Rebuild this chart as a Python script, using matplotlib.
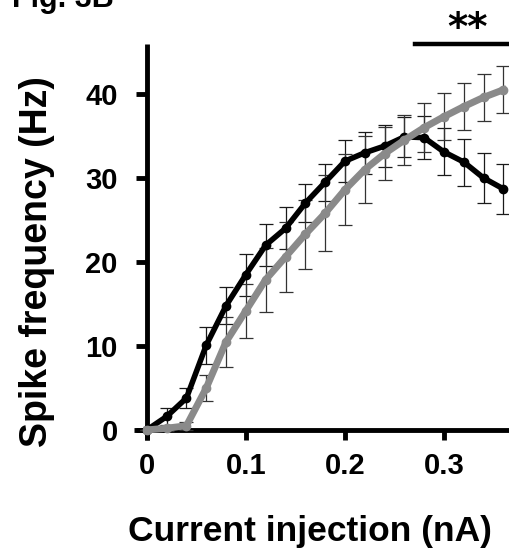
import matplotlib
matplotlib.use("Agg")
import matplotlib.pyplot as plt
import numpy as np

# Current steps (nA) and mean spike frequency (Hz) with SEM
current = [0.00, 0.02, 0.04, 0.06, 0.08, 0.10, 0.12, 0.14, 0.16, 0.18,
           0.20, 0.22, 0.24, 0.26, 0.28, 0.30, 0.32, 0.34, 0.36]
black_mean = [0.0, 1.6, 3.8, 10.1, 14.8, 18.5, 22.0, 24.0, 27.0, 29.5,
              32.0, 33.0, 33.8, 34.9, 34.8, 33.1, 31.9, 30.0, 28.7]
black_sem = [0.0, 1.0, 1.2, 2.2, 2.2, 2.5, 2.5, 2.5, 2.3, 2.2,
             2.5, 2.5, 2.5, 2.4, 2.6, 2.8, 2.8, 3.0, 3.0]
gray_mean = [0.0, 0.2, 0.5, 5.0, 10.5, 14.2, 17.9, 20.6, 23.3, 25.8,
             28.6, 31.0, 32.9, 34.5, 36.0, 37.3, 38.5, 39.6, 40.5]
gray_sem = [0.0, 0.3, 0.5, 1.5, 3.0, 3.2, 3.8, 4.2, 4.1, 4.5,
            4.2, 4.0, 3.2, 3.0, 2.9, 2.8, 2.8, 2.8, 2.8]

x_ticks = [0, 0.1, 0.2, 0.3]
x_tick_labels = ["0", "0.1", "0.2", "0.3"]
y_ticks = [0, 10, 20, 30, 40]
sig_span = [0.271, 0.40]
sig_label = "**"

plt.rcParams["font.family"] = ["Liberation Sans", "DejaVu Sans"]

W, H = 509, 560
fig = plt.figure(figsize=(W / 100, H / 100), dpi=100)

x0, x1 = -0.013, 0.3657
y0, y1 = -1.2, 46.0
px_left, px_bottom, px_top = 134, 440, 43.6
ax = fig.add_axes([px_left / W, 1 - px_bottom / H, 1 - px_left / W, (px_bottom - px_top) / H])
ax.set_xlim(x0, x1)
ax.set_ylim(y0, y1)

# error bars
ax.errorbar(current, black_mean, yerr=black_sem, fmt="none", ecolor="#1a1a1a",
            elinewidth=0.9, capsize=5, capthick=0.9, zorder=3, clip_on=False)
ax.errorbar(current, gray_mean, yerr=gray_sem, fmt="none", ecolor="#333333",
            elinewidth=0.9, capsize=5, capthick=0.9, zorder=3, clip_on=False)

ax.plot(current, black_mean, color="black", lw=4, marker="o", ms=6,
        zorder=5, clip_on=False)
ax.plot(current, gray_mean, color="#8a8a8a", lw=5, marker="o", ms=6,
        zorder=6, clip_on=False)

# axes styling
for side in ("top", "right"):
    ax.spines[side].set_visible(False)
ax.spines["left"].set_position(("data", 0))
ax.spines["bottom"].set_position(("data", 0))
ax.spines["left"].set_bounds(y0, y1)
ax.spines["bottom"].set_bounds(x0, x1)
for side in ("left", "bottom"):
    ax.spines[side].set_linewidth(3.5)
    ax.spines[side].set_capstyle("butt")

ax.set_xticks(x_ticks)
ax.set_xticklabels(x_tick_labels)
ax.set_yticks(y_ticks)
ax.tick_params(axis="x", length=7, width=3.5, pad=9, labelsize=21)
ax.tick_params(axis="y", length=8, width=3.5, pad=13, labelsize=21)
for lab in ax.get_xticklabels() + ax.get_yticklabels():
    lab.set_fontweight("bold")

fig.text(310 / W, 1 - 532 / H, "Current injection (nA)", ha="center", va="center",
         fontsize=25.5, fontweight="bold")
fig.text(37 / W, 1 - 262 / H, "Spike frequency (Hz)", ha="center", va="center",
         rotation=90, fontsize=27, fontweight="bold")

# significance bar
ax.plot(sig_span, [45.95, 45.95], color="black", lw=3.2, clip_on=False, zorder=7)
ax.text(0.324, 46.4, sig_label, ha="center", va="baseline", fontsize=28,
        fontweight="bold", family="DejaVu Sans", clip_on=False)

# panel label, partially above the top edge
fig.text(12 / W, 1 - 7 / H, "Fig. 3B", ha="left", va="baseline",
         fontsize=22, fontweight="bold")

fig.savefig("out.png", dpi=100)
